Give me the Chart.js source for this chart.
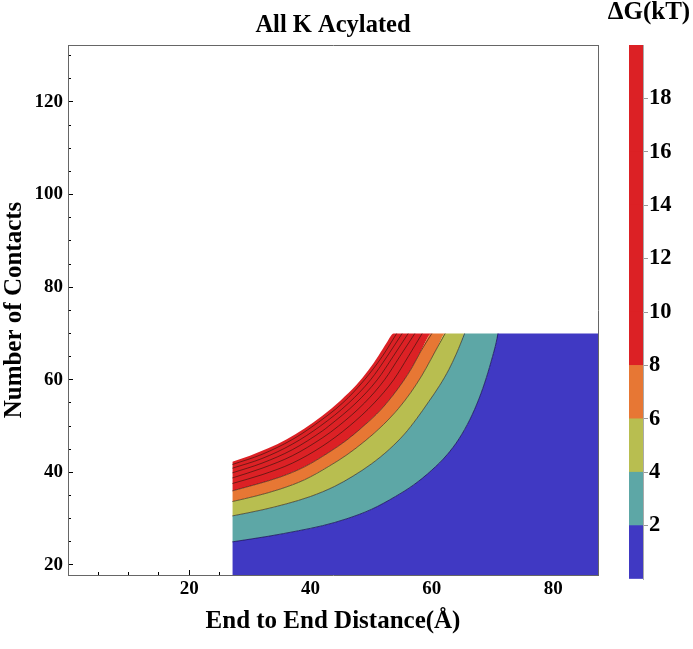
<!DOCTYPE html>
<html><head><meta charset="utf-8">
<script src="https://cdn.jsdelivr.net/npm/chart.js@4/dist/chart.umd.min.js"></script>
<style>
html,body{margin:0;padding:0;background:#fff;}
#wrap{position:relative;width:693px;height:649px;overflow:hidden;}
#main{position:absolute;left:0;top:0;}
#bar{position:absolute;left:605px;top:0;}
</style></head><body>
<div id="wrap">
<canvas id="main" width="605" height="649"></canvas>
<canvas id="bar" width="88" height="649"></canvas>
</div>
<script>
// ---- axis ranges & data domain ----
const xRange = [0, 87.4];
const yRange = [17.84, 132.3];
const domainLeft = 27.1;   // data start on x
const domainTop = 70;      // data cap on y

// ---- contour boundaries: [x, y] ----
const contour2 = [[27.1,25.0],[33,26.2],[38,27.4],[42,28.5],[46,30.0],[50,32.0],[54,34.8],[57,37.3],[60,40.5],[62.5,43.8],[64.5,47.3],[66.3,51.5],[67.8,56.0],[69,60.5],[70,65.0],[70.6,68.0],[70.9,70.0]];
const contour4 = [[27.1,30.6],[32,31.9],[36,33.2],[40,34.8],[44,37.0],[47,39.2],[50,41.8],[53,45.0],[55.5,48.3],[57.5,51.6],[59.5,55.3],[61.3,58.8],[62.8,62.2],[64,65.5],[64.8,68.0],[65.4,70.0]];
const contour6 = [[27.1,33.7],[31,34.9],[35,36.4],[39,38.4],[43,41.3],[46,43.8],[49,46.8],[52,50.3],[54.5,53.8],[56.5,57.2],[58.3,60.8],[59.8,64.3],[61,67.2],[62.2,70.0]];
const contour8 = [[27.1,36.0],[31,37.4],[35,39.0],[39,41.2],[43,44.3],[46,47.0],[49,50.3],[51.5,53.4],[53.5,56.5],[55.3,59.7],[56.8,62.8],[58.2,66.2],[60.0,70.0]];
const contour10 = [[27.1,37.6],[32,39.5],[37,42.0],[42,45.7],[46.4,50.0],[50.5,55.0],[53.7,60.0],[56.1,65.0],[58.4,70.0]];
const contour12 = [[27.1,38.8],[32,40.9],[37,43.6],[42,47.5],[44.6,50.0],[48.9,55.0],[52.2,60.0],[54.7,65.0],[57.2,70.0]];
const contour14 = [[27.1,39.9],[32,42.0],[37,44.9],[42,49.0],[43.0,50.0],[47.5,55.0],[51.0,60.0],[53.6,65.0],[56.1,70.0]];
const contour16 = [[27.1,40.9],[32,43.0],[37,46.1],[41.6,50.0],[46.3,55.0],[49.9,60.0],[52.6,65.0],[55.1,70.0]];
const contour18 = [[27.1,41.7],[32,43.9],[37,47.1],[40.4,50.0],[45.3,55.0],[48.9,60.0],[51.8,65.0],[54.2,70.0]];
const dataEdge  = [[27.1,42.3],[30,43.6],[33,45.2],[36,47.1],[39,49.5],[42,52.3],[45,55.6],[47.5,58.8],[49.5,62.0],[51.2,65.2],[52.6,68.1],[53.7,70.0]];

// ---- colour levels ----
const levels = [0,2,4,6,8,10,12,14,16,18,20];
const levelLabels = [2,4,6,8,10,12,14,16,18];
const bandColors = ['#4039C3','#5DA7A6','#B8BE50','#E77734','#DC2125'];
const xTickLabels = [20,40,60,80];
const yTickLabels = [20,40,60,80,100,120];

const serif = "'Liberation Serif','Times New Roman',serif";
const pts = a => a.map(p => ({x:p[0], y:p[1]}));

// fill boundaries (bottom to top)
const baseLine = [[domainLeft, yRange[0]], [xRange[1], yRange[0]]];
const fillBounds = [contour2, contour4, contour6, contour8, dataEdge];
const datasets = [];
datasets.push({data: pts(baseLine), borderWidth:0, fill:false, cubicInterpolationMode:'default'});
fillBounds.forEach((b, i) => {
  datasets.push({
    data: pts(b.concat([[xRange[1], domainTop]])),
    borderWidth: 0,
    backgroundColor: bandColors[i],
    fill: '-1'
  });
});
const lineSet = [contour2, contour4, contour6, contour8, contour10, contour12, contour14, contour16, contour18];
lineSet.forEach((c, i) => {
  datasets.push({
    data: pts(c),
    borderWidth: 1,
    borderColor: i === 0 ? 'rgba(20,15,80,0.75)' : 'rgba(40,20,10,0.6)',
    fill: false
  });
});

const tickFont = {family: serif, size: 19, weight: 'bold'};
const titleFont = {family: serif, size: 25, weight: 'bold'};

new Chart(document.getElementById('main'), {
  type: 'line',
  data: {datasets},
  options: {
    responsive: false,
    animation: false,
    events: [],
    layout: {padding: {left:0, right:7, top:0, bottom:0}},
    elements: {point: {radius:0, hoverRadius:0}, line: {cubicInterpolationMode:'monotone'}},
    plugins: {
      legend: {display:false},
      tooltip: {enabled:false},
      filler: {drawTime: 'beforeDatasetsDraw'},
      title: {display:true, text:'All K Acylated', fullSize:false, color:'#000',
              font:{family:serif, size:24.5, weight:'bold'}, padding:{top:11.3, bottom:4.3}}
    },
    scales: {
      x: {
        type:'linear', position:'bottom', weight:1, min:xRange[0], max:xRange[1],
        ticks:{stepSize:20, includeBounds:false, autoSkip:false, maxRotation:0, padding:7.6,
               font:tickFont, color:'#000',
               callback: v => xTickLabels.includes(v) ? String(v) : ''},
        grid:{display:true, drawOnChartArea:false, drawTicks:true, tickLength:-5, tickWidth:1,
              tickColor: c => xTickLabels.includes(c.tick.value) ? '#000' : 'rgba(0,0,0,0)'},
        border:{display:true, color:'#666', width:1},
        title:{display:true, text:'End to End Distance(Å)', color:'#000', font:titleFont, padding:{top:12, bottom:12}},
        afterFit: s => { s.height = 74; }
      },
      xMinor: {
        type:'linear', position:'bottom', weight:0, min:xRange[0], max:xRange[1],
        ticks:{display:false, stepSize:5, includeBounds:false},
        grid:{display:true, drawOnChartArea:false, drawTicks:true, tickLength:-3, tickWidth:1,
              tickColor: c => (c.tick.value > 0 && c.tick.value % 20 !== 0) ? '#000' : 'rgba(0,0,0,0)'},
        border:{display:false},
        afterFit: s => { s.height = 0; }
      },
      y: {
        type:'linear', position:'left', weight:1, min:yRange[0], max:yRange[1],
        ticks:{stepSize:20, includeBounds:false, autoSkip:false, padding:10,
               font:tickFont, color:'#000',
               callback: v => yTickLabels.includes(v) ? String(v) : ''},
        grid:{display:true, drawOnChartArea:false, drawTicks:true, tickLength:-5, tickWidth:1,
              tickColor: c => yTickLabels.includes(c.tick.value) ? '#000' : 'rgba(0,0,0,0)'},
        border:{display:true, color:'#666', width:1},
        title:{display:true, text:'Number of Contacts', color:'#000', font:titleFont, padding:{top:0, bottom:0}},
        afterFit: s => { s.width = 68; }
      },
      yMinor: {
        type:'linear', position:'left', weight:0, min:yRange[0], max:yRange[1],
        ticks:{display:false, stepSize:5, includeBounds:false},
        grid:{display:true, drawOnChartArea:false, drawTicks:true, tickLength:-3, tickWidth:1,
              tickColor: c => (c.tick.value % 20 !== 0) ? '#000' : 'rgba(0,0,0,0)'},
        border:{display:false},
        afterFit: s => { s.width = 0; }
      },
      xTop: {
        type:'linear', position:'top', weight:0, min:xRange[0], max:xRange[1],
        ticks:{display:false},
        grid:{display:true, drawOnChartArea:false, drawTicks:false},
        border:{display:true, color:'#666', width:1},
        afterFit: s => { s.height = 0; }
      },
      yRight: {
        type:'linear', position:'right', weight:0, min:yRange[0], max:yRange[1],
        ticks:{display:false},
        grid:{display:true, drawOnChartArea:false, drawTicks:false},
        border:{display:true, color:'#666', width:1},
        afterFit: s => { s.width = 0; }
      }
    }
  }
});

// ---- colour bar ----
const bandColorFor = lo => lo < 2 ? bandColors[0] : lo < 4 ? bandColors[1] : lo < 6 ? bandColors[2] : lo < 8 ? bandColors[3] : bandColors[4];
const barSets = [];
for (let i = 0; i < levels.length - 1; i++) {
  barSets.push({
    data: [levels[i+1] - levels[i]],
    backgroundColor: bandColorFor(levels[i]),
    borderWidth: 0,
    barPercentage: 1,
    categoryPercentage: 1,
    xAxisID: 'x',
    yAxisID: 'y'
  });
}
new Chart(document.getElementById('bar'), {
  type: 'bar',
  data: {labels: [''], datasets: barSets},
  options: {
    responsive: false,
    animation: false,
    events: [],
    layout: {padding: {left:0, right:0, top:0, bottom:70}},
    plugins: {
      legend: {display:false},
      tooltip: {enabled:false},
      title: {display:true, text:'ΔG(kT)', color:'#000', font:{family:serif, size:25, weight:'bold', lineHeight:1.0}, padding:{top:0, bottom:20}}
    },
    scales: {
      x: {display:false, stacked:true},
      y: {
        stacked:true, position:'right', min:levels[0], max:levels[levels.length-1], z:1,
        ticks:{stepSize:2, includeBounds:false, padding:1, color:'#000',
               font:{family:serif, size:22.5, weight:'bold'},
               callback: v => levelLabels.includes(v) ? String(v) : ''},
        grid:{display:true, drawOnChartArea:true, drawTicks:true, tickLength:5, lineWidth:1,
              color: c => (c.tick.value >= 10 && c.tick.value <= 18) ? 'rgba(110,0,0,0.55)' :
                          (c.tick.value >= 2 && c.tick.value <= 8) ? 'rgba(0,0,0,0.2)' : 'rgba(0,0,0,0)',
              tickColor: c => levelLabels.includes(c.tick.value) ? '#999' : 'rgba(0,0,0,0)'},
        border:{display:true, color:'#aaa', width:1},
        afterFit: s => { s.width = 50; }
      },
      ySpacer: {
        position:'left', min:0, max:20, display:true,
        ticks:{display:false}, grid:{display:false}, border:{display:false},
        afterFit: s => { s.width = 24; }
      }
    }
  }
});
</script>
</body></html>
